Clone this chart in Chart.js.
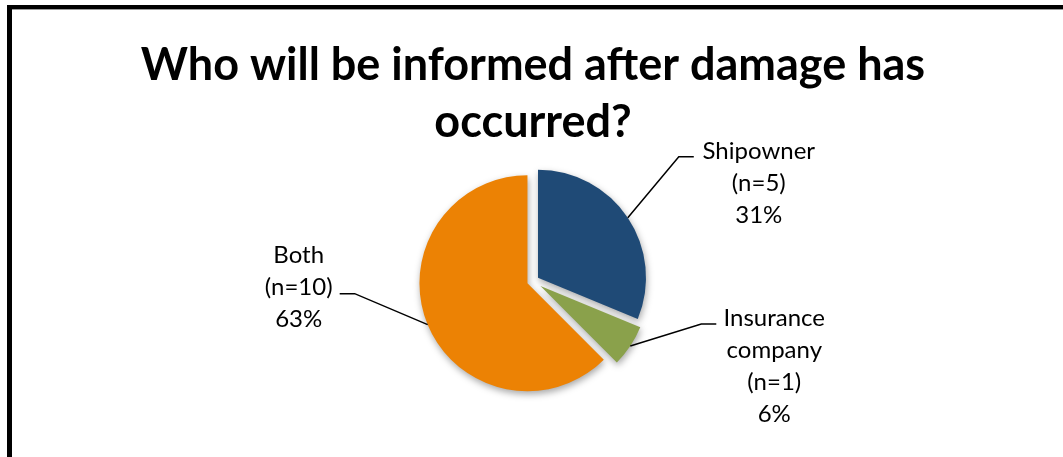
<!DOCTYPE html>
<html>
<head>
<meta charset="utf-8">
<script src="https://cdn.jsdelivr.net/npm/chart.js@4.4.1/dist/chart.umd.min.js"></script>
<style>
html, body { margin: 0; padding: 0; background: #fff; }
</style>
</head>
<body>
<canvas id="pie-chart" width="1063" height="457"></canvas>
<script>
// data
const categories = [["Shipowner"], ["Insurance", "company"], ["Both"]];
const counts = [5, 1, 10];
const titleLines = ["Who will be informed after damage has", "occurred?"];

// styling
const colors = ["#1F4A76", "#8AA14B", "#EC8204"];
const explode = [6, 9, 6];
// leader line elbow (from slice edge), tail length, text centre offset, first line offset
const leaders = [
    { dx: 51, dy: -61, tail: 15, tx: 80, ty: -5 },
    { dx: 71, dy: -22, tail: 15, tx: 73, ty: -6 },
    { dx: -73, dy: -31, tail: -15, tx: -56, ty: -38 }
];
const labelFont = "24px Lato";
const labelLineGap = 32;

const frame = {
    id: "frame",
    beforeDraw: (chart) => {
        const ctx = chart.ctx;
        ctx.save();
        ctx.fillStyle = "#fff";
        ctx.fillRect(0, 0, chart.width, chart.height);
        ctx.fillStyle = "#000";
        ctx.fillRect(7, 5, chart.width, 4);
        ctx.fillRect(7, 5, 5, chart.height);
        ctx.fillStyle = "#9a9a9a";
        ctx.fillRect(12, 9, chart.width, 1);
        ctx.restore();
    }
};

// pull every slice out along its middle angle (like Excel's exploded pie)
const explodeSlices = {
    id: "explodeSlices",
    afterUpdate: (chart) => {
        chart.getDatasetMeta(0).data.forEach((arc, i) => {
            const mid = (arc.startAngle + arc.endAngle) / 2;
            arc.x += Math.cos(mid) * explode[i];
            arc.y += Math.sin(mid) * explode[i];
        });
    },
    beforeDatasetsDraw: (chart) => {
        const ctx = chart.ctx;
        ctx.save();
        ctx.shadowColor = "rgba(0,0,0,0.35)";
        ctx.shadowBlur = 7;
        ctx.shadowOffsetX = 1;
        ctx.shadowOffsetY = 3;
    },
    afterDatasetsDraw: (chart) => {
        chart.ctx.restore();
    }
};

const leaderLabels = {
    id: "leaderLabels",
    afterDatasetsDraw: (chart) => {
        const ctx = chart.ctx;
        const total = counts.reduce((a, b) => a + b, 0);
        chart.getDatasetMeta(0).data.forEach((arc, i) => {
            const mid = (arc.startAngle + arc.endAngle) / 2;
            const ex = arc.x + Math.cos(mid) * arc.outerRadius;
            const ey = arc.y + Math.sin(mid) * arc.outerRadius;
            const l = leaders[i];
            const bx = ex + l.dx, by = ey + l.dy;
            ctx.save();
            ctx.strokeStyle = "#000";
            ctx.lineWidth = 1.5;
            ctx.beginPath();
            ctx.moveTo(ex, ey);
            ctx.lineTo(bx, by);
            ctx.lineTo(bx + l.tail, by);
            ctx.stroke();
            const lines = categories[i].concat(["(n=" + counts[i] + ")", Math.round(counts[i] / total * 100) + "%"]);
            ctx.fillStyle = "#000";
            ctx.font = labelFont;
            ctx.textAlign = "center";
            ctx.textBaseline = "middle";
            lines.forEach((t, k) => ctx.fillText(t, bx + l.tx, by + l.ty + k * labelLineGap));
            ctx.restore();
        });
    }
};

new Chart("pie-chart", {
    type: "pie",
    data: {
        labels: categories,
        datasets: [{
            data: counts,
            backgroundColor: colors,
            borderWidth: 0,
            radius: 108
        }]
    },
    options: {
        responsive: false,
        animation: false,
        events: [],
        layout: { padding: { left: 3, right: 0, top: 0, bottom: 47 } },
        plugins: {
            legend: { display: false },
            tooltip: { enabled: false },
            title: {
                display: true,
                text: titleLines,
                color: "#000",
                font: { family: "Lato", size: 45, weight: "bold", lineHeight: 1.267 },
                padding: { top: 37, bottom: 1 }
            }
        }
    },
    plugins: [frame, explodeSlices, leaderLabels]
});
</script>
</body>
</html>
